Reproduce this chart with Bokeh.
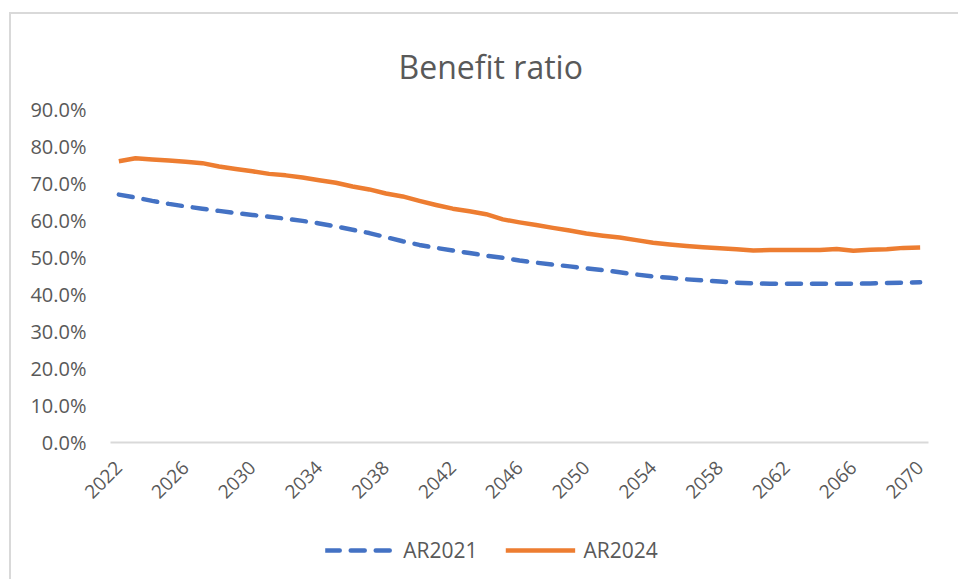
from bokeh.plotting import figure
from bokeh.layouts import column
from bokeh.models import FixedTicker, NumeralTickFormatter, Legend, LegendItem, Range1d, Title
from bokeh.embed import file_html
from bokeh.resources import INLINE
import math

years = list(range(2022, 2071))
ar2021 = [67.0, 66.2, 65.3, 64.5, 63.8, 63.2, 62.6, 62.0, 61.5, 61.0,
          60.5, 59.9, 59.2, 58.4, 57.5, 56.6, 55.5, 54.4, 53.4, 52.6,
          51.9, 51.2, 50.5, 49.9, 49.2, 48.6, 48.1, 47.6, 47.1, 46.6,
          46.0, 45.4, 44.9, 44.5, 44.1, 43.8, 43.5, 43.2, 43.0, 42.9,
          42.9, 42.9, 42.9, 42.9, 42.9, 43.0, 43.1, 43.2, 43.3]
ar2024 = [76.0, 76.8, 76.5, 76.2, 75.9, 75.5, 74.6, 73.9, 73.3, 72.6,
          72.2, 71.6, 70.9, 70.2, 69.2, 68.4, 67.3, 66.5, 65.3, 64.2,
          63.2, 62.5, 61.7, 60.3, 59.5, 58.8, 58.0, 57.3, 56.5, 55.9,
          55.4, 54.7, 54.0, 53.5, 53.1, 52.8, 52.5, 52.2, 51.9, 52.0,
          52.0, 52.0, 52.0, 52.3, 51.8, 52.1, 52.2, 52.6, 52.7]
series_names = ["AR2021", "AR2024"]
x_ticks = list(range(2022, 2071, 4))
y_ticks = [i / 10 for i in range(10)]

FONT = "Open Sans"
GREY = "#595959"
BLUE = "#4472C4"
ORANGE = "#ED7D31"

p = figure(width=947, height=506, output_backend="svg", toolbar_location=None,
           x_range=Range1d(2021.5, 2070.5), y_range=Range1d(0, 0.9),
           min_border_left=99, min_border_right=30, min_border_top=95,
           min_border_bottom=78)

p.title = Title(text="Benefit ratio", align="left", text_font=FONT,
                text_font_size="32px", text_font_style="normal", text_color=GREY,
                offset=288, standoff=43)
p.outline_line_color = None
p.xgrid.visible = False
p.ygrid.visible = False

p.line(years, [v / 100 for v in ar2021], line_color=BLUE,
       line_width=4.5, line_dash="14 11", line_cap="round")
p.line(years, [v / 100 for v in ar2024], line_color=ORANGE,
       line_width=4.5, line_join="round")

p.xaxis.ticker = FixedTicker(ticks=x_ticks)
p.xaxis.major_label_orientation = math.pi / 4
p.xaxis.major_tick_line_color = None
p.xaxis.minor_tick_line_color = None
p.xaxis.axis_line_color = "#d9d9d9"
p.xaxis.axis_line_width = 2
p.xaxis.major_label_text_font = FONT
p.xaxis.major_label_text_font_size = "19px"
p.xaxis.major_label_text_color = GREY
p.xaxis.major_label_standoff = 16

p.yaxis.ticker = FixedTicker(ticks=y_ticks)
p.yaxis.formatter = NumeralTickFormatter(format="0.0%")
p.yaxis.axis_line_color = None
p.yaxis.major_tick_line_color = None
p.yaxis.minor_tick_line_color = None
p.yaxis.major_label_text_font = FONT
p.yaxis.major_label_text_font_size = "20px"
p.yaxis.major_label_text_color = GREY
p.yaxis.major_label_standoff = 18

# legend strip (frame aligned with the main plot)
pl = figure(width=947, height=59, output_backend="svg", toolbar_location=None,
            x_range=Range1d(0, 1), y_range=Range1d(0, 1),
            x_axis_type=None, y_axis_type=None,
            min_border_left=99, min_border_right=30, min_border_top=0,
            min_border_bottom=0)
pl.outline_line_color = None
pl.xgrid.visible = False
pl.ygrid.visible = False
g1 = pl.line([-2, -1], [-2, -2], line_color=BLUE, line_width=4.5,
             line_dash="14 11", line_cap="round")
g2 = pl.line([-2, -1], [-2, -2], line_color=ORANGE, line_width=4.5)
legend = Legend(items=[LegendItem(label=series_names[0], renderers=[g1]),
                       LegendItem(label=series_names[1], renderers=[g2])],
                orientation="horizontal", location="center",
                title=" ", title_location="right", title_standoff=44,
                title_text_font_size="10px",
                label_text_font=FONT, label_text_font_size="21px",
                label_text_color=GREY, glyph_width=70, glyph_height=20,
                label_standoff=8, spacing=28, border_line_color=None,
                background_fill_alpha=0, margin=0, padding=0)
pl.add_layout(legend, "center")

layout = column(p, pl, spacing=0)
layout.margin = (12, 0, 0, 9)
layout.styles = {"border-top": "2px solid #d9d9d9", "border-left": "2px solid #d9d9d9"}

open("out.html", "w").write(file_html(layout, INLINE))
